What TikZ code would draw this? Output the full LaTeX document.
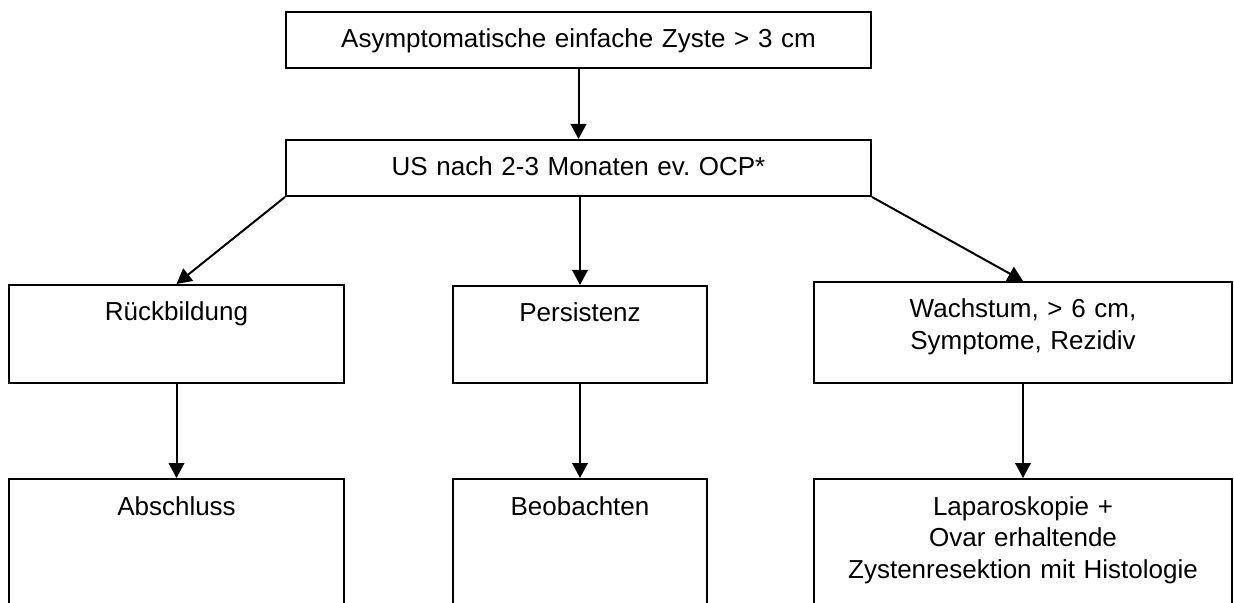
\documentclass[tikz,border=0pt]{standalone}
\usepackage{fontspec}
\setmainfont{Liberation Sans}
\frenchspacing
\usepackage{tikz}
\usetikzlibrary{arrows.meta,positioning}
\tikzset{
	flowbox/.style={
		draw, rectangle, line width=1pt, inner sep=0pt,
		align=center, anchor=north, text=black,
		font=\fontsize{13}{15.85}\selectfont,
		text height=18pt
	},
	flow_arrow/.style={-{Triangle[length=7.5pt,width=7.8pt]}, line width=1pt}
}

\begin{document}
\begin{tikzpicture}[x=0.5pt,y=-0.5pt]
	\useasboundingbox (0,0) rectangle (1234,603);
	\clip (0,0) rectangle (1234,603);
	\node[flowbox, text width=292.5pt, text depth=10pt] (zyste) at (578.5,11) {Asymptomatische einfache Zyste > 3 cm};
	\node[flowbox, text width=292.5pt, text depth=10pt] (us) [below=35pt of zyste] {US nach 2-3 Monaten ev. OCP*};
	\node[flowbox, text width=167.5pt, text depth=31pt] (rueck) at (176.5,284) {Rückbildung};
	\node[flowbox, text width=127pt, text depth=30.5pt] (pers) at (580,285) {Persistenz};
	\node[flowbox, text width=209pt, text depth=32.5pt] (wachs) at (1023,281) {Wachstum, > 6 cm,\\ Symptome, Rezidiv};
	\node[flowbox, text width=167.5pt, text depth=60pt] (abschluss) [below=47pt of rueck] {Abschluss};
	\node[flowbox, text width=127pt, text depth=60pt] (beob) [below=47pt of pers] {Beobachten};
	\node[flowbox, text width=209pt, text depth=60pt] (lap) [below=47pt of wachs] {Laparoskopie +\\ Ovar erhaltende\\ Zystenresektion mit Histologie};
	\draw[flow_arrow] (zyste) -- (us);
	\draw[flow_arrow] (us.south west) -- (rueck.north);
	\draw[flow_arrow] (us.south -| pers.north) -- (pers.north);
	\draw[flow_arrow] (us.south east) -- (wachs.north);
	\draw[flow_arrow] (rueck) -- (abschluss);
	\draw[flow_arrow] (pers) -- (beob);
	\draw[flow_arrow] (wachs) -- (lap);
\end{tikzpicture}
\end{document}
